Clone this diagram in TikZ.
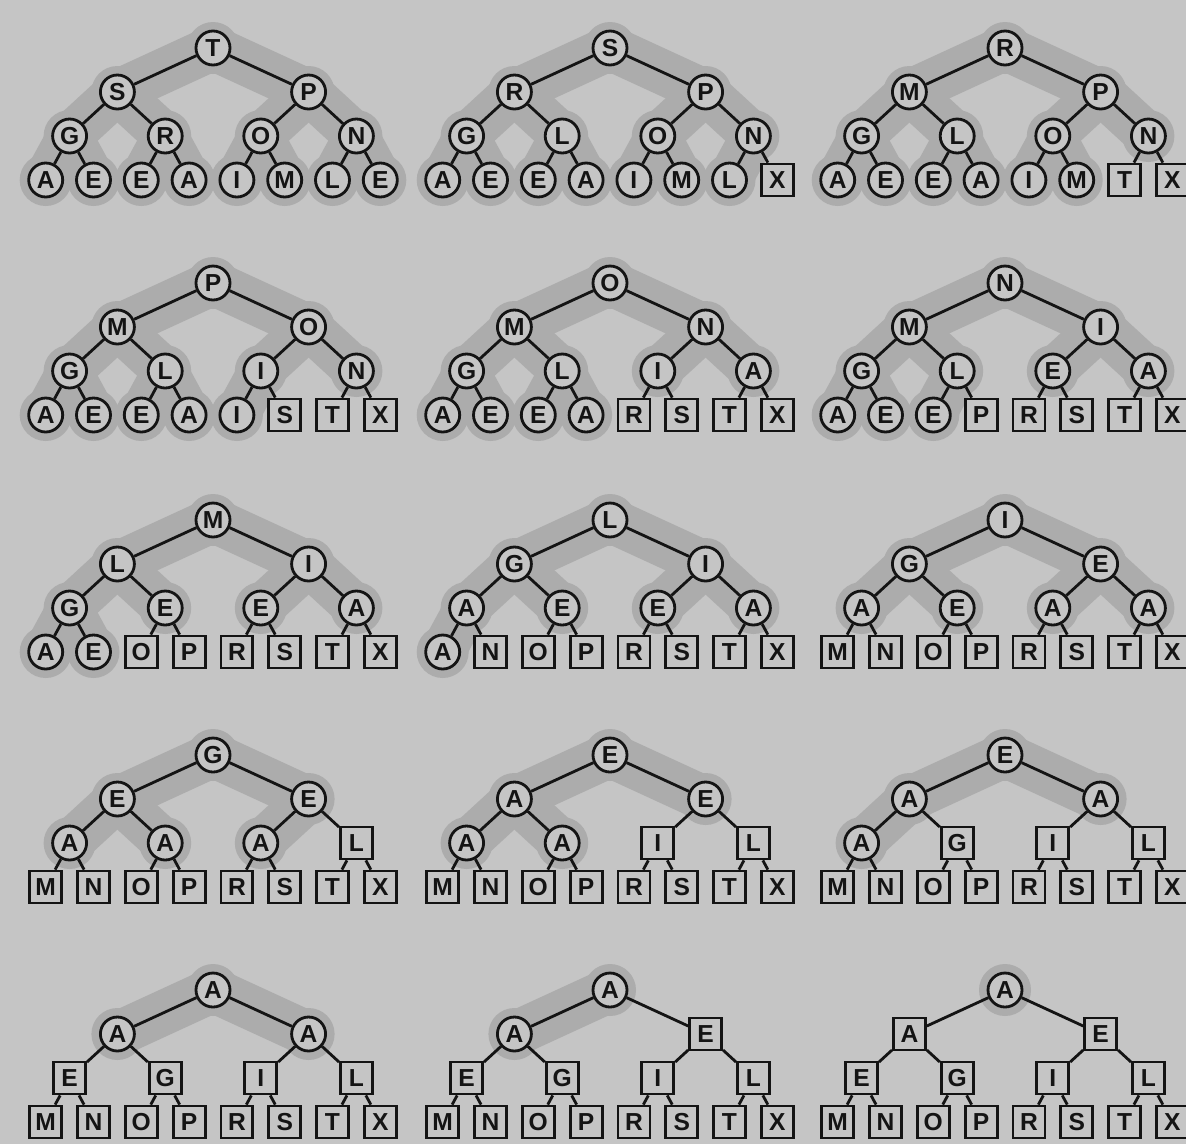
\documentclass[tikz,border=0pt]{standalone}
\usepackage{fontspec}
\setmainfont{Liberation Sans}
\usepackage{tikz}

\definecolor{paper}{RGB}{197,197,197}
\definecolor{halo}{RGB}{172,172,172}
\definecolor{ink}{RGB}{20,20,20}

% offsets of the 15 heap positions from the root (pixels)
\def\heapxs{{0,-95.6,95.6,-143.4,-47.8,47.8,143.4,-167.3,-119.5,-71.7,-23.9,23.9,71.7,119.5,167.3}}
\def\heapys{{0,44,44,88,88,88,88,132,132,132,132,132,132,132,132}}

% #1 = name, #2 = root, #3 = heap size, #4 = array contents
\newcommand{\heappanel}[4]{%
  \begin{scope}[shift={#2}]
    % grey halo round the heap-ordered part
    \foreach \i in {1,...,#3} {
      \pgfmathsetmacro{\hx}{\heapxs[\i-1]}
      \pgfmathsetmacro{\hy}{\heapys[\i-1]}
      \fill[halo] (\hx,\hy) circle[radius=26];
    }
    \ifnum#3>1
      \foreach \i in {2,...,#3} {
        \pgfmathtruncatemacro{\p}{\i/2}
        \pgfmathsetmacro{\hx}{\heapxs[\i-1]}
        \pgfmathsetmacro{\hy}{\heapys[\i-1]}
        \pgfmathsetmacro{\px}{\heapxs[\p-1]}
        \pgfmathsetmacro{\py}{\heapys[\p-1]}
        \draw[haloband] (\px,\py) -- (\hx,\hy);
      }
    \fi
    % nodes: circles still in the heap, boxes already sorted
    \foreach \ch [count=\i] in {#4} {
      \pgfmathsetmacro{\hx}{\heapxs[\i-1]}
      \pgfmathsetmacro{\hy}{\heapys[\i-1]}
      \ifnum\i>#3 \def\kind{sorted}\else\def\kind{heap}\fi
      \node[\kind] (#1-\i) at (\hx,\hy) {\ch};
    }
    % links
    \foreach \i in {2,...,15} {
      \pgfmathtruncatemacro{\p}{\i/2}
      \draw[link] (#1-\p) -- (#1-\i);
    }
  \end{scope}
}

\begin{document}
\begin{tikzpicture}[
  x=0.02cm, y=-0.02cm,
  every node/.style={font=\fontsize{14}{14}\selectfont\bfseries, text=ink},
  heap/.style={circle, draw=ink, fill=paper, line width=1.6pt, minimum size=0.68cm, inner sep=0pt},
  sorted/.style={rectangle, draw=ink, fill=paper, line width=1.6pt, minimum size=0.64cm, inner sep=0pt},
  link/.style={draw=ink, line width=1.6pt},
  haloband/.style={draw=halo, line width=0.9cm, line cap=round},
]
\fill[paper] (0,0) rectangle (1186,1144);
\useasboundingbox (0,0) rectangle (1186,1144);
\begin{scope}
\clip (0,0) rectangle (1186,1144);

% --- Row 1
\heappanel{a}{(213,48)}{15}{T,S,P,G,R,O,N,A,E,E,A,I,M,L,E}
\heappanel{b}{(610,48)}{14}{S,R,P,G,L,O,N,A,E,E,A,I,M,L,X}
\heappanel{c}{(1005,48)}{13}{R,M,P,G,L,O,N,A,E,E,A,I,M,T,X}

% --- Row 2
\heappanel{d}{(213,283)}{12}{P,M,O,G,L,I,N,A,E,E,A,I,S,T,X}
\heappanel{e}{(610,283)}{11}{O,M,N,G,L,I,A,A,E,E,A,R,S,T,X}
\heappanel{f}{(1005,283)}{10}{N,M,I,G,L,E,A,A,E,E,P,R,S,T,X}

% --- Row 3
\heappanel{g}{(213,520)}{9}{M,L,I,G,E,E,A,A,E,O,P,R,S,T,X}
\heappanel{h}{(610,520)}{8}{L,G,I,A,E,E,A,A,N,O,P,R,S,T,X}
\heappanel{i}{(1005,520)}{7}{I,G,E,A,E,A,A,M,N,O,P,R,S,T,X}

% --- Row 4
\heappanel{j}{(213,755)}{6}{G,E,E,A,A,A,L,M,N,O,P,R,S,T,X}
\heappanel{k}{(610,755)}{5}{E,A,E,A,A,I,L,M,N,O,P,R,S,T,X}
\heappanel{l}{(1005,755)}{4}{E,A,A,A,G,I,L,M,N,O,P,R,S,T,X}

% --- Row 5
\heappanel{m}{(213,990)}{3}{A,A,A,E,G,I,L,M,N,O,P,R,S,T,X}
\heappanel{n}{(610,990)}{2}{A,A,E,E,G,I,L,M,N,O,P,R,S,T,X}
\heappanel{o}{(1005,990)}{1}{A,A,E,E,G,I,L,M,N,O,P,R,S,T,X}
\end{scope}
\end{tikzpicture}
\end{document}
